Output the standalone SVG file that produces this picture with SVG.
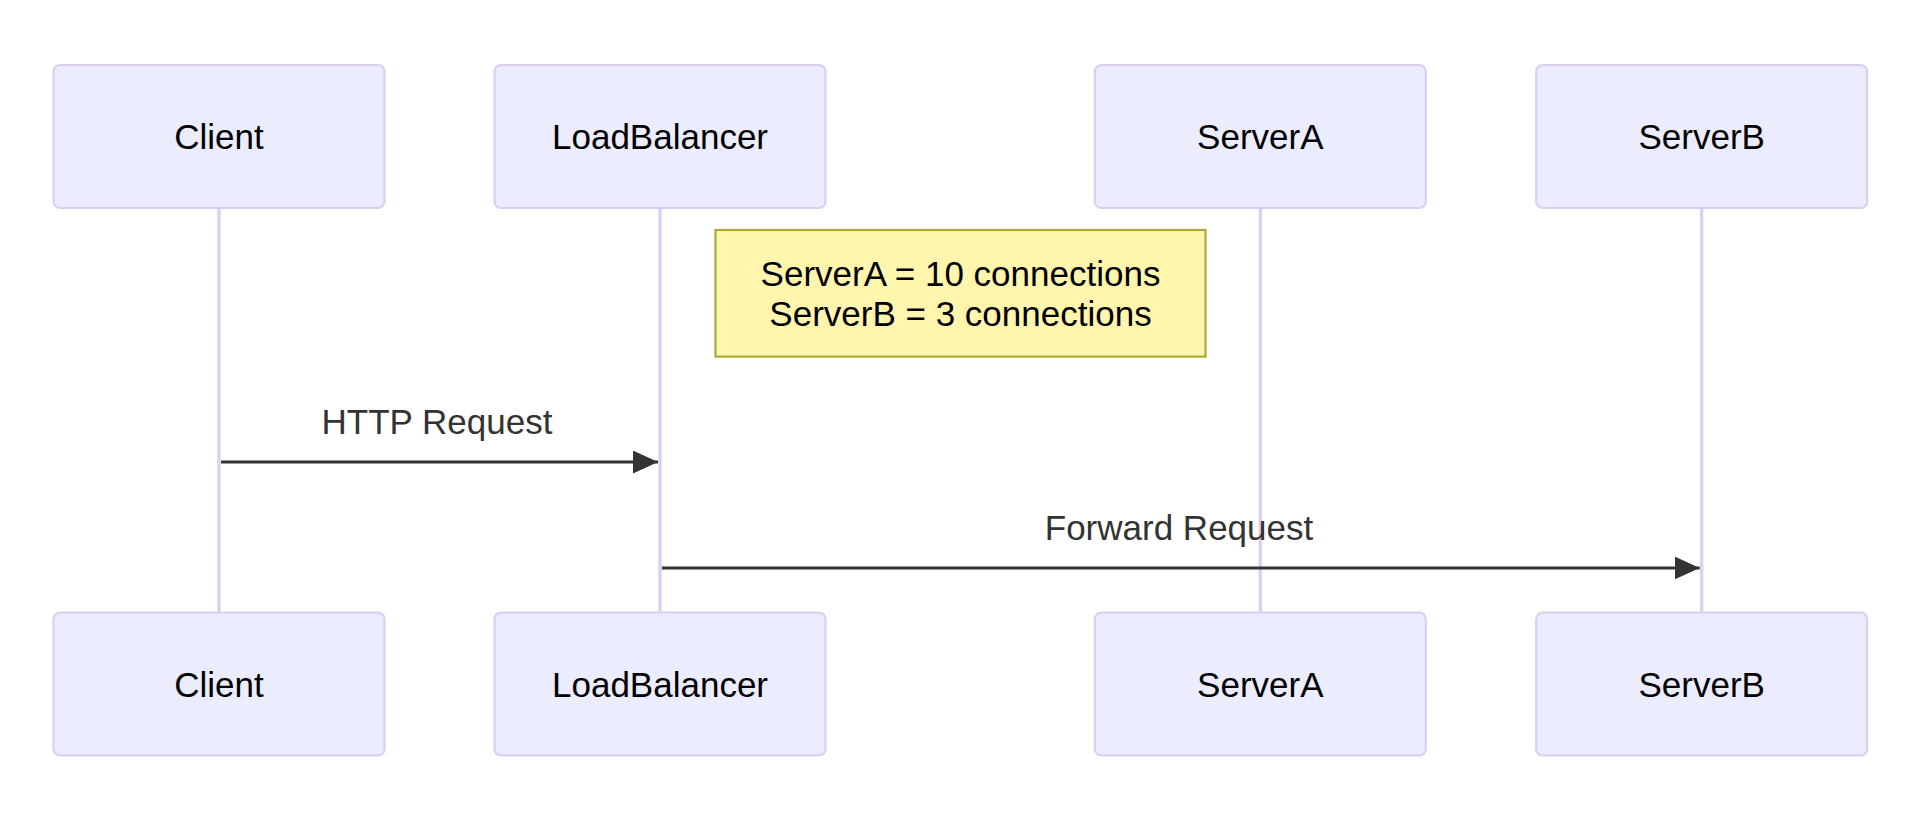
<svg xmlns="http://www.w3.org/2000/svg" width="1928" height="822" viewBox="0 0 1928 822">
<defs>
<style>
.actor{fill:#ECECFF;stroke:#DACEF3;stroke-width:2.2;}
.atext{font-family:"Liberation Sans",Arial,sans-serif;font-size:35px;fill:#000;text-anchor:middle;dominant-baseline:central;}
.life{stroke:#DACEF3;stroke-width:3.3;}
.msg{stroke:#333;stroke-width:3;fill:none;}
.mtext{font-family:"Liberation Sans",Arial,sans-serif;font-size:35px;fill:#333;text-anchor:middle;}
.note{fill:#FFF5AD;stroke:#AAAA33;stroke-width:2.2;}
.ntext{font-family:"Liberation Sans",Arial,sans-serif;font-size:35px;fill:#000;text-anchor:middle;dominant-baseline:central;}
</style>
<marker id="arrow" viewBox="0 0 25 23" refX="25" refY="11.5" markerWidth="25" markerHeight="23" markerUnits="userSpaceOnUse" orient="auto">
<path d="M0,0 L25,11.5 L0,23 Z" fill="#333"/>
</marker>
</defs>
<rect width="1928" height="822" fill="#fff"/>
<g id="lifelines">
<line class="life" x1="219" y1="208" x2="219" y2="612"/>
<line class="life" x1="660" y1="208" x2="660" y2="612"/>
<line class="life" x1="1260.3" y1="208" x2="1260.3" y2="612"/>
<line class="life" x1="1701.7" y1="208" x2="1701.7" y2="612"/>
</g>
<g id="Client-top"><rect class="actor" x="53.5" y="65" width="331" height="143" rx="6.6"/><text class="atext" x="219" y="136.5">Client</text></g>
<g id="LoadBalancer-top"><rect class="actor" x="494.5" y="65" width="331" height="143" rx="6.6"/><text class="atext" x="660" y="136.5">LoadBalancer</text></g>
<g id="ServerA-top"><rect class="actor" x="1094.8" y="65" width="331" height="143" rx="6.6"/><text class="atext" x="1260.3" y="136.5">ServerA</text></g>
<g id="ServerB-top"><rect class="actor" x="1536.2" y="65" width="331" height="143" rx="6.6"/><text class="atext" x="1701.7" y="136.5">ServerB</text></g>
<g id="Client-bottom"><rect class="actor" x="53.5" y="612.5" width="331" height="143" rx="6.6"/><text class="atext" x="219" y="684">Client</text></g>
<g id="LoadBalancer-bottom"><rect class="actor" x="494.5" y="612.5" width="331" height="143" rx="6.6"/><text class="atext" x="660" y="684">LoadBalancer</text></g>
<g id="ServerA-bottom"><rect class="actor" x="1094.8" y="612.5" width="331" height="143" rx="6.6"/><text class="atext" x="1260.3" y="684">ServerA</text></g>
<g id="ServerB-bottom"><rect class="actor" x="1536.2" y="612.5" width="331" height="143" rx="6.6"/><text class="atext" x="1701.7" y="684">ServerB</text></g>
<g id="note">
<rect class="note" x="715.5" y="230" width="490" height="126.6"/>
<text class="ntext" x="960.5" y="273">ServerA = 10 connections</text>
<text class="ntext" x="960.5" y="313.5">ServerB = 3 connections</text>
</g>
<g id="connectors">
<line class="msg" x1="221" y1="462" x2="658" y2="462" marker-end="url(#arrow)"/>
<text class="mtext" x="437" y="434">HTTP Request</text>
<line class="msg" x1="662" y1="568" x2="1699.7" y2="568" marker-end="url(#arrow)"/>
<text class="mtext" x="1179" y="540">Forward Request</text>
</g>
</svg>
